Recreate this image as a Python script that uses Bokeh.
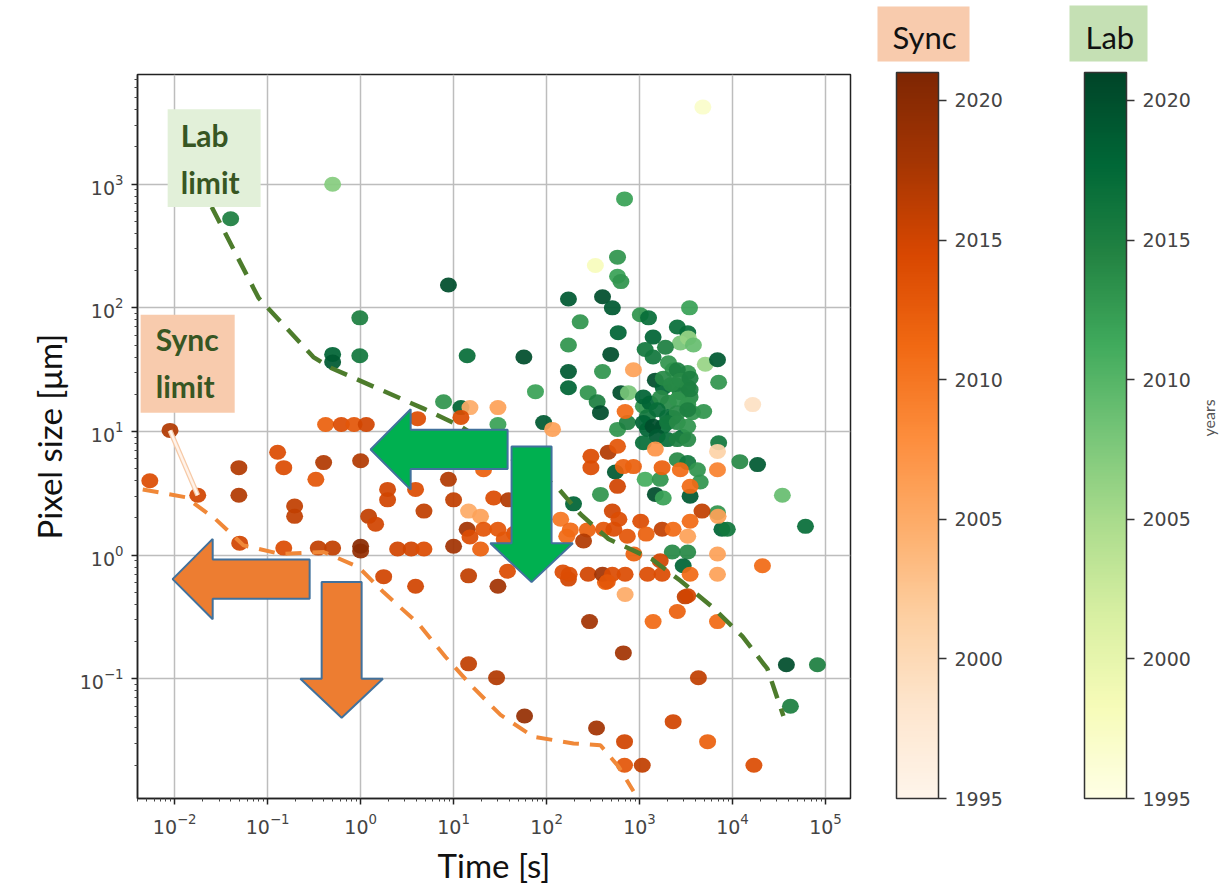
import math
from bokeh.plotting import figure
from bokeh.models import (ColumnDataSource, LinearColorMapper, ColorBar, FixedTicker,
                          Label, BoxAnnotation, Range1d, LinearAxis)
from bokeh.palettes import Oranges9, YlGn9, interp_palette
from bokeh.embed import file_html
from bokeh.resources import INLINE

# ---------------- data ----------------
sync_time = [0.0089, 0.0054, 0.0177, 0.049, 0.049, 0.050, 0.128, 0.149, 0.195, 0.195,
             0.149, 0.40, 0.33, 0.35, 0.50, 1.0, 1.0, 1.0, 1.22, 1.45,
             0.42, 0.62, 0.85, 1.15, 3.9, 1.77, 4.1, 1.95, 1.95, 3.9,
             4.8, 2.5, 3.5, 4.8, 8.8, 10, 10, 15, 12, 30,
             116, 21, 27, 14.5, 19.5, 14, 21, 30, 15, 19.5,
             39, 14.5, 30, 38, 45, 35, 60, 172, 430, 700,
             3100, 2550, 290, 1400, 6900, 670, 14.5, 29, 4300, 58,
             345, 2300, 690, 5400, 690, 1070, 17000, 300, 300, 460,
             580, 670, 860, 580, 1750, 2750, 3500, 6900, 1480, 6900,
             510, 600, 142, 180, 165, 275, 410, 530, 740, 250,
             1030, 1180, 1750, 2300, 4700, 3500, 3300, 7000, 870, 1670,
             6900, 175, 280, 400, 510, 700, 1220, 1750, 450, 3500,
             6900, 3300, 860, 700, 16500, 21000, 150]
sync_pixel = [10.2, 4.0, 3.05, 5.1, 3.05, 1.25, 6.8, 5.1, 2.5, 2.06,
              1.14, 5.6, 4.1, 1.14, 1.14, 5.8, 1.08, 1.18, 2.06, 1.78,
              11.4, 11.4, 11.4, 11.4, 0.56, 0.67, 12.7, 3.4, 2.8, 3.4,
              2.27, 1.12, 1.12, 1.12, 4.1, 2.8, 1.18, 15.6, 13, 15.6,
              10.4, 4.9, 2.9, 2.27, 2.06, 1.62, 1.62, 1.62, 1.4, 1.12,
              2.8, 0.68, 0.56, 0.74, 1.5, 1.35, 1.45, 0.64, 0.6, 0.48,
              0.46, 0.35, 0.29, 0.29, 0.29, 0.162, 0.132, 0.102, 0.102, 0.050,
              0.040, 0.045, 0.031, 0.031, 0.020, 0.020, 0.020, 6.3, 5.1, 6.8,
              7.6, 5.2, 5.2, 3.6, 5.1, 4.9, 3.6, 4.9, 7.2, 6.9,
              2.27, 1.95, 1.95, 1.6, 1.42, 1.6, 1.62, 1.62, 1.42, 1.3,
              1.88, 1.48, 1.62, 1.62, 2.27, 1.88, 1.42, 2.06, 1.02, 0.9,
              1.02, 0.7, 0.7, 0.7, 0.7, 0.7, 0.7, 0.7, 0.61, 0.7,
              0.7, 0.47, 31.6, 14.5, 16.5, 0.82, 0.73]
sync_year = [2017, 2014, 2015, 2017, 2017, 2015, 2014, 2014, 2016, 2016,
             2014, 2017, 2013, 2016, 2016, 2017, 2019, 2020, 2016, 2015,
             2012, 2014, 2013, 2015, 2015, 2015, 2014, 2015, 2015, 2014,
             2016, 2015, 2015, 2014, 2017, 2016, 2018, 2005, 2014, 2006,
             2006, 2012, 2014, 2005, 2006, 2018, 2013, 2013, 2014, 2012,
             2017, 2016, 2018, 2014, 2014, 2013, 2014, 2015, 2012, 2005,
             2016, 2012, 2018, 2011, 2011, 2018, 2016, 2017, 2016, 2019,
             2018, 2015, 2015, 2012, 2013, 2016, 2014, 2014, 2014, 2017,
             2013, 2012, 2012, 2015, 2012, 2011, 2011, 2009, 2007, 2001,
             2015, 2014, 2010, 2011, 2011, 2012, 2013, 2014, 2013, 2017,
             2014, 2012, 2016, 2011, 2016, 2011, 2006, 2006, 2012, 2015,
             2006, 2014, 2015, 2018, 2014, 2014, 2014, 2014, 2013, 2011,
             2006, 2015, 2006, 2011, 1999, 2011, 2014]

lab_time = [0.50, 0.040, 8.8, 0.98, 0.50, 0.50, 0.98, 7.8, 4800, 690,
            580, 580, 630, 335, 172, 400, 510, 1020, 1250, 3450,
            230, 590, 1400, 2550, 3300, 172, 490, 1150, 1400, 2750,
            3350, 3800, 5100, 6900, 14, 57, 172, 172, 400, 630,
            280, 350, 76, 1480, 1800, 2450, 2750, 3300, 2300, 3300,
            3500, 3700, 4900, 7100, 12, 30, 93, 1100, 1220, 1800,
            2300, 2900, 7100, 12000, 18600, 1900, 2050, 2550, 1800, 2200,
            2750, 3500, 3500, 760, 1100, 1300, 1680, 2050, 2550, 3300,
            380, 1220, 1550, 2000, 2550, 3300, 580, 740, 1100, 1400,
            2000, 2550, 3300, 1550, 2000, 2550, 3300, 1100, 2550, 3300,
            4200, 4500, 550, 1150, 1670, 1480, 1800, 3500, 380, 195,
            7700, 8800, 2250, 3300, 2950, 34400, 61000, 38000, 82000, 42000,
            6900]
lab_pixel = [1000, 525, 153, 83, 42, 36.5, 41, 17.4, 4200, 760,
             257, 180, 163, 220, 118, 123, 100, 88, 83, 100,
             77, 63, 58, 70, 63, 50, 42, 46, 40, 52,
             57, 50, 35, 38, 41, 40, 30.5, 22.6, 30.5, 20.6,
             20.6, 17.4, 21, 26, 22.6, 24, 20.6, 23, 31.5, 30,
             19, 14.2, 14.5, 25, 15.6, 11.4, 11.8, 16, 10.4, 11,
             13, 9.1, 8.1, 5.7, 5.4, 48, 36, 31.5, 27, 24,
             26, 27, 21.8, 20.6, 19, 17, 18.8, 17.2, 18.2, 16.5,
             14.2, 13.2, 15, 13.2, 14.2, 15, 10.4, 11.8, 11.8, 11,
             11.8, 11.8, 11, 9.1, 8.6, 8.6, 8.6, 8.1, 5.9, 5.6,
             4.9, 3.9, 4.7, 4.1, 4.1, 3.1, 2.9, 3.0, 3.1, 2.6,
             1.62, 1.62, 1.06, 1.06, 0.82, 3.05, 1.71, 0.13, 0.13, 0.060,
             2.2]
lab_year = [2007, 2015, 2020, 2015, 2018, 2019, 2016, 2013, 1997, 2012,
            2013, 2012, 2013, 1998, 2019, 2020, 2019, 2013, 2017, 2012,
            2013, 2018, 2018, 2017, 2017, 2013, 2020, 2016, 2016, 2008,
            2006, 2009, 2006, 2019, 2017, 2020, 2019, 2018, 2013, 2020,
            2013, 2015, 2012, 2020, 2018, 2015, 2015, 2015, 2013, 2013,
            2014, 2013, 2013, 2013, 2018, 2012, 2019, 2013, 2018, 2017,
            2017, 2017, 2016, 2014, 2019, 2015, 2013, 2015, 2014, 2014,
            2014, 2015, 2015, 2008, 2018, 2018, 2014, 2014, 2013, 2013,
            2020, 2016, 2017, 2017, 2014, 2015, 2013, 2015, 2018, 2020,
            2016, 2014, 2013, 2019, 2017, 2015, 2014, 2017, 2014, 2016,
            2013, 2013, 2019, 2011, 2013, 2020, 2012, 2019, 2013, 2018,
            2018, 2016, 2014, 2014, 2018, 2009, 2017, 2020, 2015, 2015,
            2013]

# limit curves
lab_limit_time = [0.025, 0.080, 0.31, 0.475, 4.76, 11.9, 128, 232, 464, 1350,
                  2760, 6100, 12800, 23800, 35300]
lab_limit_pixel = [653, 120, 40, 32.8, 15.3, 11.0, 3.6, 2.14, 1.35, 0.93,
                   0.62, 0.38, 0.22, 0.12, 0.050]
sync_limit_time = [0.00453, 0.0131, 0.0276, 0.055, 0.138, 0.40, 0.95, 1.77, 4.2,
                   8.2, 16, 32, 72, 195, 380, 594, 861]
sync_limit_pixel = [3.4, 2.94, 1.95, 1.2, 1.02, 1.06, 0.80, 0.50, 0.278,
                    0.150, 0.086, 0.051, 0.034, 0.030, 0.029, 0.0195, 0.0123]
sync_trace_time = [0.0089, 0.0177]
sync_trace_pixel = [10.2, 3.05]

x_ticks = [1e-2, 1e-1, 1e0, 1e1, 1e2, 1e3, 1e4, 1e5]
y_ticks = [1e-2, 1e-1, 1e0, 1e1, 1e2, 1e3]
year_ticks = [1995, 2000, 2005, 2010, 2015, 2020]
YEAR_LOW, YEAR_HIGH = 1995, 2021

# ---------------- figure ----------------
X_MIN, X_MAX = 0.00398, 1.86e5
Y_MIN, Y_MAX = 0.01076, 7710

p = figure(width=1231, height=887, x_axis_type="log", y_axis_type="log",
           x_range=Range1d(X_MIN, X_MAX), y_range=Range1d(Y_MIN, Y_MAX),
           output_backend="svg", toolbar_location=None,
           min_border_left=137, min_border_right=381, min_border_top=74,
           min_border_bottom=87, background_fill_color="white",
           border_fill_color="white", outline_line_color="#222222",
           outline_line_width=1.5)

minor_x = [m * 10.0 ** k for k in range(-3, 6) for m in range(2, 10)]
minor_y = [m * 10.0 ** k for k in range(-3, 4) for m in range(2, 10)]
p.xaxis.ticker = FixedTicker(ticks=x_ticks, minor_ticks=minor_x)
p.yaxis.ticker = FixedTicker(ticks=y_ticks, minor_ticks=minor_y)

p.xaxis.axis_label = "Time [s]"
p.yaxis.axis_label = "Pixel size [μm]"
for ax in (p.xaxis, p.yaxis):
    ax.axis_label_text_font = "Lato"
    ax.axis_label_text_font_size = "33px"
    ax.axis_label_text_font_style = "normal"
    ax.axis_label_text_color = "#111111"
    ax.axis_label_standoff = 8
    ax.major_label_text_font = "DejaVu Sans"
    ax.major_label_text_font_size = "19px"
    ax.major_label_text_color = "#444444"
    ax.major_label_standoff = 8
    ax.axis_line_color = "#222222"
    ax.axis_line_width = 1.5
    ax.major_tick_line_color = "#222222"
    ax.major_tick_line_width = 1.5
    ax.major_tick_in = 0
    ax.major_tick_out = 6
    ax.minor_tick_line_color = "#444444"
    ax.minor_tick_in = 0
    ax.minor_tick_out = 3

p.grid.grid_line_color = "#bdbdbd"
p.grid.grid_line_width = 1.5

sync_pal = interp_palette(Oranges9[::-1], 256)
lab_pal = interp_palette(YlGn9[::-1], 256)
sync_mapper = LinearColorMapper(palette=sync_pal, low=YEAR_LOW, high=YEAR_HIGH)
lab_mapper = LinearColorMapper(palette=lab_pal, low=YEAR_LOW, high=YEAR_HIGH)

lab_src = ColumnDataSource(dict(t=lab_time, s=lab_pixel, year=lab_year))
sync_src = ColumnDataSource(dict(t=sync_time, s=sync_pixel, year=sync_year))

p.ellipse(x="t", y="s", width=17, height=15, width_units="screen", height_units="screen",
          source=lab_src, fill_color={"field": "year", "transform": lab_mapper},
          line_color=None, fill_alpha=0.93)
p.ellipse(x="t", y="s", width=17, height=15, width_units="screen", height_units="screen",
          source=sync_src, fill_color={"field": "year", "transform": sync_mapper},
          line_color=None, fill_alpha=0.93)

p.line(sync_trace_time, sync_trace_pixel, line_color="#f6c9a6", line_width=5)
p.line(sync_trace_time, sync_trace_pixel, line_color="#fff3ea", line_width=2.5)

p.line(lab_limit_time, lab_limit_pixel, line_color="#4d7c2c", line_width=4.5,
       line_dash="18 11")
p.line(sync_limit_time, sync_limit_pixel, line_color="#f08838", line_width=4,
       line_dash="16 11")

# ---------------- block arrows (annotations, log-space shapes) ----------------
LEFT_SHAPE = dict(length=1.474, head=0.431, head_half=0.325, shaft_half=0.159)
DOWN_SHAPE = dict(length=1.097, head=0.315, head_half=0.444, shaft_half=0.215)
arrows = [
    ("left", 1.28, 7.16, "#00b050"),
    ("down", 69.0, 0.605, "#00b050"),
    ("left", 0.0095, 0.64, "#ed7d31"),
    ("down", 0.625, 0.0484, "#ed7d31"),
]

def arrow_poly(kind, tx, ty):
    lx, ly = math.log10(tx), math.log10(ty)
    if kind == "left":
        s = LEFT_SHAPE
        pts = [(0, 0), (s["head"], s["head_half"]), (s["head"], s["shaft_half"]),
               (s["length"], s["shaft_half"]), (s["length"], -s["shaft_half"]),
               (s["head"], -s["shaft_half"]), (s["head"], -s["head_half"])]
    else:
        s = DOWN_SHAPE
        pts = [(0, 0), (s["head_half"], s["head"]), (s["shaft_half"], s["head"]),
               (s["shaft_half"], s["length"]), (-s["shaft_half"], s["length"]),
               (-s["shaft_half"], s["head"]), (-s["head_half"], s["head"])]
    xs = [10 ** (lx + dx) for dx, dy in pts]
    ys = [10 ** (ly + dy) for dx, dy in pts]
    return xs, ys

for kind, tx, ty, col in arrows:
    xs, ys = arrow_poly(kind, tx, ty)
    p.patch(xs, ys, fill_color=col, line_color="#41719c", line_width=2)

# ---------------- limit boxes ----------------
p.add_layout(BoxAnnotation(left=0.0084, right=0.084, bottom=653, top=4030,
                           fill_color="#e2f0d9", fill_alpha=1, line_color=None))
p.add_layout(BoxAnnotation(left=0.0043, right=0.0442, bottom=14.2, top=87.8,
                           fill_color="#f8cbad", fill_alpha=1, line_color=None))
for txt, x, y in [("Lab\nlimit", 0.0116, 1620), ("Sync\nlimit", 0.00625, 36)]:
    p.add_layout(Label(x=x, y=y, text=txt, text_font="Lato", text_font_style="bold",
                       text_font_size="30px", text_color="#375623",
                       text_align="left", text_baseline="middle",
                       text_line_height=1.3))

# ---------------- colour bars ----------------
def make_cb(mapper, loc):
    return ColorBar(color_mapper=mapper, location=loc, width=42, height=726,
                    padding=0, margin=0, ticker=FixedTicker(ticks=year_ticks),
                    major_label_text_font="DejaVu Sans",
                    major_label_text_font_size="19px",
                    major_label_text_color="#444444", label_standoff=8,
                    major_tick_in=0, major_tick_out=8,
                    major_tick_line_color="#333333", major_tick_line_width=1.5,
                    minor_tick_line_color=None, bar_line_color="#333333",
                    bar_line_width=1.5, background_fill_color=None,
                    border_line_color=None)

p.add_layout(make_cb(sync_mapper, (759, 0)), "center")
p.add_layout(make_cb(lab_mapper, (947, 0)), "center")

# coloured title plates above the colour bars: a plate (single-colour bar) and a
# horizontal carrier bar of the same colour whose title is the plate's text
def plate(color, loc, w, h, title=None):
    kw = {}
    if title is not None:
        kw = dict(orientation="horizontal", title=title, title_text_font="Lato",
                  title_text_font_size="31px", title_text_font_style="normal",
                  title_text_color="#111111", title_standoff=4)
    return ColorBar(color_mapper=LinearColorMapper(palette=[color], low=0, high=1),
                    location=loc, width=w, height=h, padding=0, margin=0,
                    ticker=FixedTicker(ticks=[]), major_label_text_alpha=0,
                    major_label_text_font_size="1px",
                    major_tick_line_color=None, minor_tick_line_color=None,
                    major_tick_out=0, label_standoff=0,
                    bar_line_color=None, background_fill_color=None,
                    border_line_color=None, **kw)

p.add_layout(plate("#f8cbad", (740, 737), 92, 55), "center")
p.add_layout(plate("#c5e0b4", (932, 737), 78, 56), "center")
p.add_layout(plate("#f8cbad", (755, 740), 60, 1, "Sync"), "center")
p.add_layout(plate("#c5e0b4", (948, 740), 46, 1, "Lab"), "center")

# "years" label of the Lab colour bar, via a bare right-hand axis
years_axis = LinearAxis(ticker=FixedTicker(ticks=[]), axis_label="years",
                        axis_label_text_font="Lato", axis_label_text_font_size="16px",
                        axis_label_text_font_style="normal",
                        axis_label_text_color="#555555", axis_label_standoff=358,
                        axis_label_orientation=math.pi / 2,
                        axis_line_color=None, major_tick_line_color=None,
                        minor_tick_line_color=None, major_tick_out=0,
                        minor_tick_out=0, major_label_standoff=0,
                        major_label_text_alpha=0)
p.add_layout(years_axis, "right")

open("out.html", "w").write(file_html(p, INLINE))
